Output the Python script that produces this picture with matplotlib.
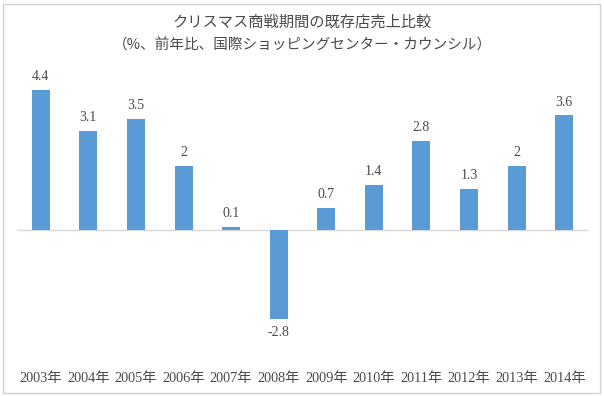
import matplotlib
matplotlib.use("Agg")
import matplotlib.pyplot as plt
from matplotlib.patches import Rectangle

years = ["2003年", "2004年", "2005年", "2006年", "2007年", "2008年",
         "2009年", "2010年", "2011年", "2012年", "2013年", "2014年"]
values = [4.4, 3.1, 3.5, 2, 0.1, -2.8, 0.7, 1.4, 2.8, 1.3, 2, 3.6]
value_labels = ["4.4", "3.1", "3.5", "2", "0.1", "-2.8", "0.7", "1.4", "2.8", "1.3", "2", "3.6"]
title_lines = ["クリスマス商戦期間の既存店売上比較",
               "（%、前年比、国際ショッピングセンター・カウンシル）"]

plt.rcParams['font.family'] = ['Liberation Serif', 'Noto Sans CJK JP', 'DejaVu Sans']

BAR = "#5B9BD5"
TXT = "#4A4A4A"

fig = plt.figure(figsize=(6.04, 3.96), dpi=100)
fig.patch.set_facecolor("white")
fig.add_artist(Rectangle((2.5/604, 3.5/396), 597/604, 389/396, transform=fig.transFigure,
                         fill=False, edgecolor="#D0D0D0", linewidth=1.0))

ax = fig.add_axes([17/604, 1-357/396, 571/604, 286/396])
x = list(range(len(years)))
ax.bar(x, values, width=0.38, color=BAR, zorder=2)
ax.axhline(0, color="#D9D9D9", linewidth=1.0, zorder=1)
ax.set_xlim(-0.5, len(years)-0.5)
ax.set_ylim(-4, 5)
for s in ax.spines.values():
    s.set_visible(False)
ax.set_yticks([])
ax.set_xticks(x)
ax.set_xticklabels(years, fontsize=10.3, color=TXT)
ax.tick_params(axis='x', length=0, pad=11)

for xi, v, lab in zip(x, values, value_labels):
    if v >= 0:
        ax.annotate(lab, (xi, v), xytext=(0, 5), textcoords="offset points",
                    ha="center", va="bottom", fontsize=10, color=TXT)
    else:
        ax.annotate(lab, (xi, v), xytext=(0, -5), textcoords="offset points",
                    ha="center", va="top", fontsize=10, color=TXT)

fig.text(0.5, 1-22/396, title_lines[0], ha="center", va="center", fontsize=11,
         color=TXT, family=['Noto Sans CJK JP', 'DejaVu Sans'])
fig.text(0.5, 1-45/396, title_lines[1], ha="center", va="center", fontsize=10.5,
         color=TXT, family=['Noto Sans CJK JP', 'DejaVu Sans'])

fig.savefig("out.png", dpi=100)
